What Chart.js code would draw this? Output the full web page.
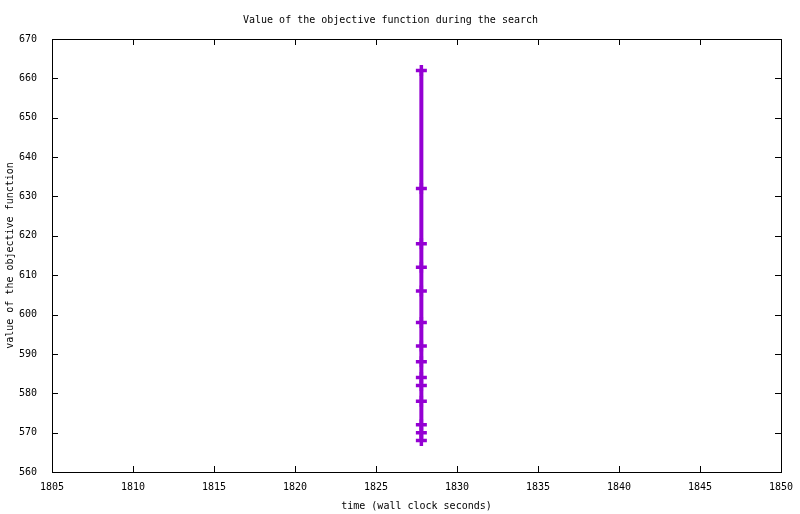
<!DOCTYPE html>
<html>
<head>
<meta charset="utf-8">
<script src="https://cdn.jsdelivr.net/npm/chart.js@4/dist/chart.umd.min.js"></script>
<style>
  html, body { margin: 0; padding: 0; background: #fff; }
  #wrap { width: 800px; height: 514px; }
</style>
</head>
<body>
<div id="wrap"><canvas id="chart1" width="800" height="514"></canvas></div>
<script>
/* Datos */
var times = [1827.8, 1827.8, 1827.8, 1827.8, 1827.8, 1827.8, 1827.8,
             1827.8, 1827.8, 1827.8, 1827.8, 1827.8, 1827.8, 1827.8];
var objValues = [662, 632, 618, 612, 606, 598, 592, 588, 584, 582, 578, 572, 570, 568];
var xTicks = [1805, 1810, 1815, 1820, 1825, 1830, 1835, 1840, 1845, 1850];
var yTicks = [560, 570, 580, 590, 600, 610, 620, 630, 640, 650, 660, 670];

var FONT = 'DejaVu Sans Mono';

/* caja y marcas hacia dentro, estilo gnuplot */
var boxTicks = {
    id: 'boxTicks',
    afterDraw: function (chart) {
        var ctx = chart.ctx;
        var a = chart.chartArea;
        var xs = chart.scales.x, ys = chart.scales.y;
        var len = 6;
        ctx.save();
        ctx.strokeStyle = '#000';
        ctx.lineWidth = 1;
        ctx.beginPath();
        xTicks.forEach(function (v) {
            var px = Math.round(xs.getPixelForValue(v)) + 0.5;
            ctx.moveTo(px, a.bottom);
            ctx.lineTo(px, a.bottom - len);
            ctx.moveTo(px, a.top);
            ctx.lineTo(px, a.top + len);
        });
        yTicks.forEach(function (v) {
            var py = Math.round(ys.getPixelForValue(v)) + 0.5;
            ctx.moveTo(a.left, py);
            ctx.lineTo(a.left + len, py);
            ctx.moveTo(a.right, py);
            ctx.lineTo(a.right - len, py);
        });
        ctx.stroke();
        ctx.strokeRect(Math.round(a.left) + 0.5, Math.round(a.top) + 0.5,
            Math.round(a.right - a.left), Math.round(a.bottom - a.top));
        ctx.restore();
    }
};

var points = times.map(function (t, i) { return { x: t, y: objValues[i] }; });

function plain(v) { return String(v); }

var ctx1 = document.getElementById('chart1').getContext('2d');
var myChart = new Chart(ctx1, {
    type: 'line',
    data: {
        datasets: [{
            label: 'objective',
            data: points,
            borderColor: 'rgb(148, 0, 211)',
            backgroundColor: 'rgb(148, 0, 211)',
            borderWidth: 4,
            pointStyle: 'cross',
            pointRadius: 5.5,
            pointBorderWidth: 3.5,
            pointBorderColor: 'rgb(148, 0, 211)',
            fill: false,
            tension: 0
        }]
    },
    options: {
        responsive: false,
        devicePixelRatio: 1,
        animation: false,
        layout: { padding: { left: 0, right: 19, top: 0, bottom: 0 } },
        plugins: {
            legend: { display: false },
            tooltip: { enabled: false },
            title: {
                display: true,
                text: 'Value of the objective function during the search',
                color: '#000',
                font: { family: FONT, size: 10, weight: 'normal' },
                padding: { top: 14, bottom: 13 }
            }
        },
        scales: {
            x: {
                type: 'linear',
                min: 1805,
                max: 1850,
                afterBuildTicks: function (s) {
                    s.ticks = xTicks.map(function (v) { return { value: v }; });
                },
                afterFit: function (s) { s.height = 42; },
                grid: { display: false },
                border: { display: false },
                ticks: {
                    color: '#000',
                    padding: 1,
                    maxRotation: 0,
                    callback: plain,
                    font: { family: FONT, size: 10 }
                },
                title: {
                    display: true,
                    text: 'time (wall clock seconds)',
                    color: '#000',
                    font: { family: FONT, size: 10 },
                    padding: { top: 0, bottom: 2 }
                }
            },
            y: {
                type: 'linear',
                min: 560,
                max: 670,
                afterBuildTicks: function (s) {
                    s.ticks = yTicks.map(function (v) { return { value: v }; });
                },
                afterFit: function (s) { s.width = 52; },
                grid: { display: false },
                border: { display: false },
                ticks: {
                    color: '#000',
                    padding: 7,
                    callback: plain,
                    font: { family: FONT, size: 10 }
                },
                title: {
                    display: true,
                    text: 'value of the objective function',
                    color: '#000',
                    font: { family: FONT, size: 10 },
                    padding: { top: 4, bottom: 0 }
                }
            }
        }
    },
    plugins: [boxTicks]
});
</script>
</body>
</html>
